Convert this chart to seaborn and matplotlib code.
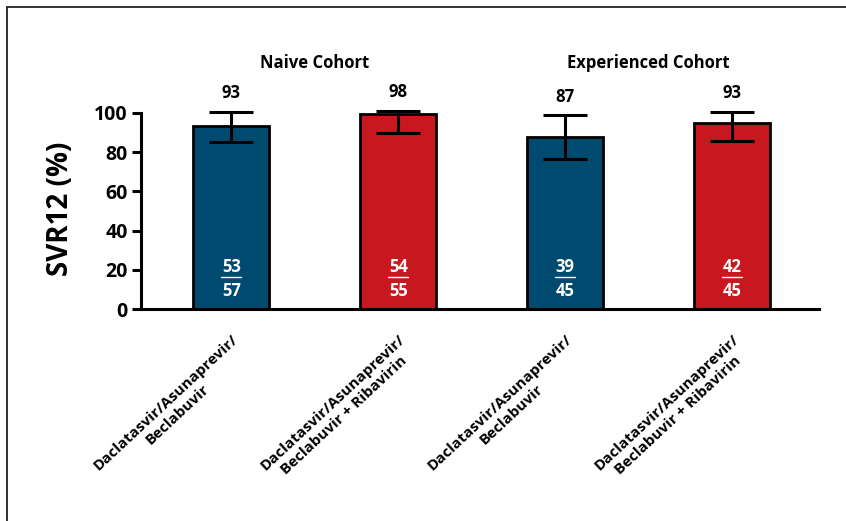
import numpy as np
import pandas as pd
import matplotlib.pyplot as plt
import seaborn as sns
from matplotlib.lines import Line2D

# data
groups = ['g1', 'g2', 'g3', 'g4']
tick_labels = ['Daclatasvir/Asunaprevir/\nBeclabuvir',
               'Daclatasvir/Asunaprevir/\nBeclabuvir + Ribavirin',
               'Daclatasvir/Asunaprevir/\nBeclabuvir',
               'Daclatasvir/Asunaprevir/\nBeclabuvir + Ribavirin']
svr = [93.2, 99.3, 87.8, 94.9]
err_low = [85.1, 89.7, 76.4, 85.6]
err_high = [100.4, 100.9, 98.8, 100.5]
top_labels = ['93', '98', '87', '93']
responders = ['53', '54', '39', '42']
totals = ['57', '55', '45', '45']
cohorts = ['Naive Cohort', 'Experienced Cohort']
colors = ['#004a70', '#c8171e', '#004a70', '#c8171e']

df = pd.DataFrame({'group': groups, 'svr': svr})

sns.set_style('white')
plt.rcParams['font.family'] = ['Open Sans', 'DejaVu Sans']
plt.rcParams['font.weight'] = 'bold'
plt.rcParams['text.color'] = 'black'
plt.rcParams['axes.labelcolor'] = 'black'
plt.rcParams['xtick.color'] = 'black'
plt.rcParams['ytick.color'] = 'black'

fig = plt.figure(figsize=(8.46, 5.21), dpi=100)
ax = fig.add_axes([0.1667, 0.4069, 0.8014, 0.4895])

sns.barplot(data=df, x='group', y='svr', hue='group', palette=colors,
            order=groups, errorbar=None, width=0.455, edgecolor='black',
            linewidth=2.0, legend=False, ax=ax, saturation=1)

x = np.arange(len(groups))
yerr = [np.array(svr) - np.array(err_low), np.array(err_high) - np.array(svr)]
ax.errorbar(x, svr, yerr=yerr, fmt='none', ecolor='black', elinewidth=2.2,
            capsize=16, capthick=2.2, zorder=5)

ax.set_xlim(-0.54, 3.52)
ax.set_ylim(0, 130)
ax.set_yticks([0, 20, 40, 60, 80, 100])
ax.spines['left'].set_bounds(0, 100)
ax.spines['top'].set_visible(False)
ax.spines['right'].set_visible(False)
for s in ['left', 'bottom']:
    ax.spines[s].set_linewidth(2.2)
    ax.spines[s].set_color('black')
ax.tick_params(axis='y', length=6.5, width=2.2, labelsize=14, pad=3,
               left=True)
ax.tick_params(axis='x', length=0, pad=17)
ax.set_xticks(x)
ax.set_xticklabels(tick_labels, rotation=43, ha='right', va='top',
                   rotation_mode='anchor', fontsize=11, fontweight='bold',
                   multialignment='center')
ax.set_xlabel('')
ax.set_ylabel('SVR12 (%)', fontsize=20, fontweight='bold')
ax.yaxis.set_label_coords(-0.097, 0.394)

# values above error bars
for i, t in enumerate(top_labels):
    ax.text(x[i], err_high[i] + 9.5, t, ha='center', va='center',
            fontsize=12, fontweight='bold')

# cohort headers
ax.text((x[0] + x[1]) / 2, 125.5, cohorts[0], ha='center', va='center',
        fontsize=12, fontweight='bold')
ax.text((x[2] + x[3]) / 2, 125.5, cohorts[1], ha='center', va='center',
        fontsize=12, fontweight='bold')

# responders (underlined) / totals inside bars
for i in range(len(groups)):
    ax.text(x[i], 21.2, responders[i], ha='center', va='center',
            fontsize=12, fontweight='bold', color='white')
    ax.plot([x[i] - 0.06, x[i] + 0.06], [16.3, 16.3], color='white', lw=1.0)
    ax.text(x[i], 9.4, totals[i], ha='center', va='center',
            fontsize=12, fontweight='bold', color='white')

# frame around the figure (top and left edges)
fig.add_artist(Line2D([7 / 846, 1], [1 - 7 / 521, 1 - 7 / 521],
                      transform=fig.transFigure, color='#222222', lw=1.3))
fig.add_artist(Line2D([7 / 846, 7 / 846], [0, 1 - 7 / 521],
                      transform=fig.transFigure, color='#222222', lw=1.3))

fig.savefig('out.png', dpi=100)
